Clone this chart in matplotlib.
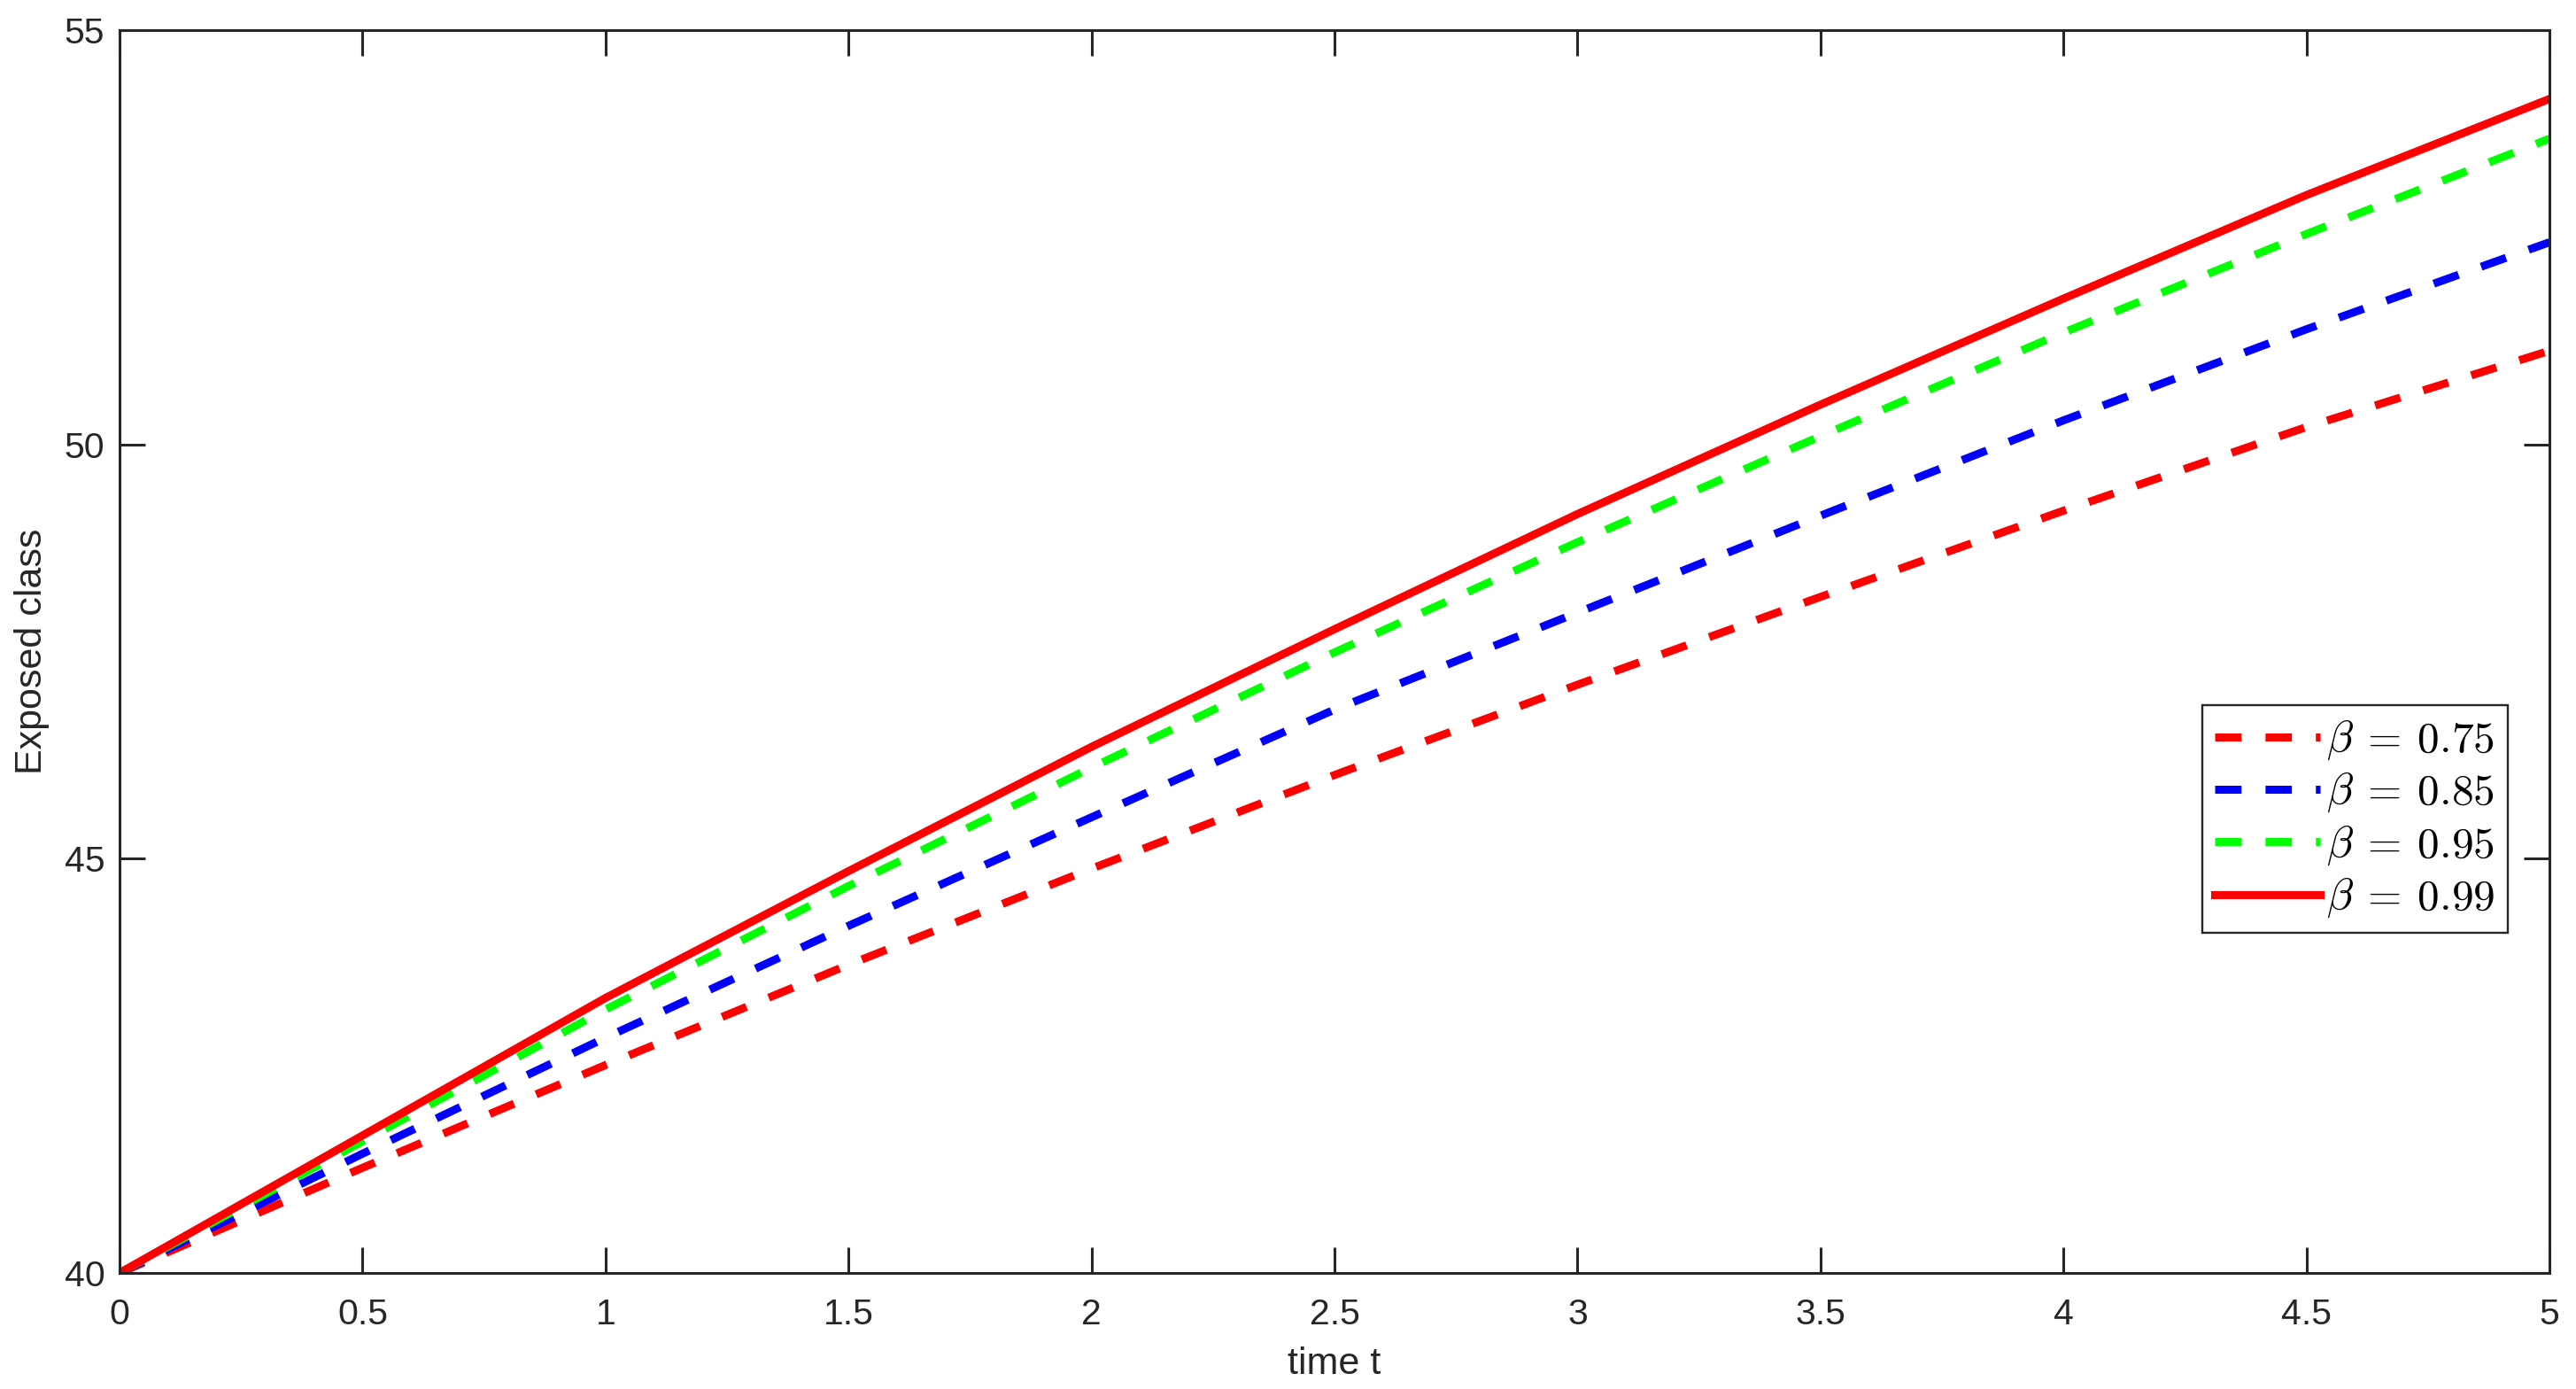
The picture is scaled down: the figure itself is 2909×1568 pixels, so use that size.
import matplotlib
matplotlib.use("Agg")
import matplotlib.pyplot as plt

# data
t = [0, 0.5, 1.0, 1.5, 2.0, 2.5, 3.0, 3.5, 4.0, 4.5, 5.0]
e_075 = [40.0, 41.27, 42.51, 43.72, 44.88, 46.01, 47.10, 48.16, 49.20, 50.21, 51.13]
e_085 = [40.0, 41.44, 42.84, 44.19, 45.50, 46.80, 47.97, 49.14, 50.29, 51.39, 52.44]
e_095 = [40.0, 41.59, 43.18, 44.67, 46.10, 47.49, 48.82, 50.10, 51.35, 52.54, 53.69]
e_099 = [40.0, 41.66, 43.32, 44.85, 46.35, 47.77, 49.16, 50.48, 51.76, 53.01, 54.17]
labels = [r"$\beta\:=\:0.75$", r"$\beta\:=\:0.85$", r"$\beta\:=\:0.95$", r"$\beta\:=\:0.99$"]
xticks = [0, 0.5, 1, 1.5, 2, 2.5, 3, 3.5, 4, 4.5, 5]
xticklabels = ["0", "0.5", "1", "1.5", "2", "2.5", "3", "3.5", "4", "4.5", "5"]
yticks = [40, 45, 50, 55]

plt.rcParams["font.family"] = ["Liberation Sans", "DejaVu Sans"]
plt.rcParams["mathtext.fontset"] = "cm"

dark = "#262626"
lw = 6.5
dash = (3.3, 3.0)

fig = plt.figure(figsize=(29.09, 15.68), dpi=100)
ax = fig.add_axes([0.0464, 0.0835, 0.9433, 0.8948])

ax.plot(t, e_075, color="#ff0000", lw=lw, dashes=dash, label=labels[0])
ax.plot(t, e_085, color="#0000ff", lw=lw, dashes=dash, label=labels[1])
ax.plot(t, e_095, color="#00ff00", lw=lw, dashes=dash, label=labels[2])
ax.plot(t, e_099, color="#ff0000", lw=lw, label=labels[3])

ax.set_xlim(0, 5)
ax.set_ylim(40, 55)
ax.set_xticks(xticks)
ax.set_xticklabels(xticklabels)
ax.set_yticks(yticks)

for s in ax.spines.values():
    s.set_color(dark)
    s.set_linewidth(2.2)
ax.tick_params(direction="in", length=21, width=2.2, color=dark,
               labelcolor=dark, labelsize=29.5, top=True, right=True)
ax.tick_params(axis="x", pad=20)
ax.tick_params(axis="y", pad=12)

ax.set_xlabel("time t", fontsize=31, color=dark, labelpad=12)
ax.set_ylabel("Exposed class", fontsize=31, color=dark, labelpad=12)

leg = ax.legend(loc="upper left", bbox_to_anchor=(0.857, 0.457), fontsize=35.5,
                handlelength=2.4, handletextpad=0.15, labelspacing=0.2,
                borderpad=0.3, borderaxespad=0, fancybox=False,
                framealpha=1, edgecolor=dark)
leg.get_frame().set_linewidth(1.7)

fig.savefig("out.png", dpi=100, facecolor="white")
